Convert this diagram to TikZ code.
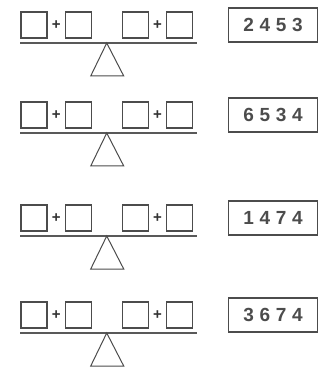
\documentclass[tikz,border=0pt]{standalone}
\usepackage{fontspec}
\setmainfont{Liberation Sans}
\newfontfamily\digitfont[LetterSpace=30]{Liberation Sans}
\usetikzlibrary{positioning, calc}

\begin{document}
\begin{tikzpicture}[x=1pt, y=-1pt,
  slot/.style={draw=black!70, line width=1.1pt, minimum size=26pt, inner sep=0pt},
  plus/.style={font=\bfseries\fontsize{15}{15}\selectfont, text=black!80, inner sep=0pt},
  answer/.style={draw=black!70, line width=1.1pt, minimum width=89pt, minimum height=34pt,
    inner sep=0pt, font=\digitfont\bfseries\fontsize{19}{19}\selectfont, text=black!70},
  beam/.style={draw=black!65, line width=2.2pt},
  pivot/.style={draw=black!70, line width=1pt}
]
\useasboundingbox (0,0) rectangle (323,371);
\foreach \dy/\num [count=\r] in {0/2453, 90/6534, 193/1474, 290/3674}{
  % left pan and right pan
  \node[slot] (a\r) at (34, 25+\dy) {};
  \node[plus, right=4pt of a\r] (pa\r) {+};
  \node[slot, right=4pt of pa\r] (b\r) {};
  \node[slot, right=30pt of b\r] (c\r) {};
  \node[plus, right=4pt of c\r] (pc\r) {+};
  \node[slot, right=4pt of pc\r] (d\r) {};
  % beam and pivot
  \coordinate (bl\r) at (20, 43+\dy);
  \coordinate (br\r) at (197, 43+\dy);
  \draw[beam] (bl\r) -- (br\r);
  \coordinate (top\r) at ($(bl\r)!0.49!(br\r)$);
  \draw[pivot] (top\r) -- ++(-16, 33) -- ++(33, 0) -- cycle;
  % number to split
  \node[answer] (n\r) at (273, 25+\dy) {\num};
}
\end{tikzpicture}
\end{document}
